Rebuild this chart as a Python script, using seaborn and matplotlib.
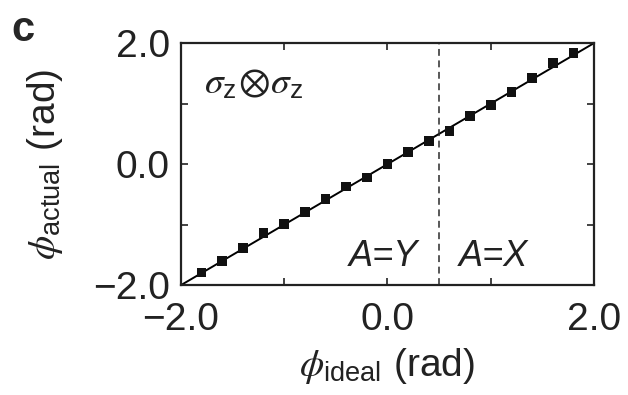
import numpy as np
import matplotlib
matplotlib.use("Agg")
import matplotlib.pyplot as plt
import seaborn as sns
import pandas as pd

# data
phi_ideal = [-1.8, -1.6, -1.4, -1.2, -1.0, -0.8, -0.6, -0.4, -0.2, 0.0,
             0.2, 0.4, 0.6, 0.8, 1.0, 1.2, 1.4, 1.6, 1.8]
phi_actual = [-1.79, -1.60, -1.39, -1.14, -0.99, -0.79, -0.58, -0.37, -0.22, 0.0,
              0.20, 0.38, 0.55, 0.79, 0.98, 1.19, 1.42, 1.67, 1.84]
ideal_line = [-2.0, 2.0]
boundary = 0.5
tick_labels = ["\u22122.0", "0.0", "2.0"]

df = pd.DataFrame({"ideal": phi_ideal, "actual": phi_actual})

sns.set_style("ticks")
plt.rcParams["font.family"] = ["Liberation Sans", "DejaVu Sans"]
plt.rcParams["mathtext.fontset"] = "custom"
plt.rcParams["mathtext.rm"] = "Liberation Sans"
plt.rcParams["mathtext.it"] = "STIXGeneral:italic"
plt.rcParams["mathtext.bf"] = "Liberation Sans:bold"
plt.rcParams["mathtext.fallback"] = "stix"

fig = plt.figure(figsize=(6.28, 3.95), dpi=100)
ax = fig.add_axes([0.288, 0.278, 0.658, 0.613])

# y = x reference
sns.lineplot(x=ideal_line, y=ideal_line, ax=ax, color="black", lw=1.4)
ax.axvline(boundary, color="#2a2a2a", lw=1.1, ls=(0, (4.5, 3)))
sns.scatterplot(data=df, x="ideal", y="actual", ax=ax, marker="s", s=48,
                color="#111111", edgecolor="none", zorder=3)

ax.set_xlim(-2, 2)
ax.set_ylim(-2, 2)
ax.set_xticks([-2, -1, 0, 1, 2])
ax.set_yticks([-2, -1, 0, 1, 2])
ax.set_xticklabels([tick_labels[0], "", tick_labels[1], "", tick_labels[2]])
ax.set_yticklabels([tick_labels[0], "", tick_labels[1], "", tick_labels[2]])
ax.tick_params(direction="in", length=5, width=1.2, top=True, right=True,
               labelsize=28, colors="#222222")
ax.tick_params(axis="x", pad=12)
ax.tick_params(axis="y", pad=8)
for s in ax.spines.values():
    s.set_linewidth(1.6)
    s.set_color("#222222")

ax.set_xlabel(r"$\phi_{\mathrm{ideal}}$ (rad)", fontsize=28, color="#222222", labelpad=6)
ax.set_ylabel(r"$\phi_{\mathrm{actual}}$ (rad)", fontsize=28, color="#222222", labelpad=20)

ax.text(-1.78, 1.32, r"$\sigma_{\mathrm{z}}\!\otimes\!\sigma_{\mathrm{z}}$",
        fontsize=27, va="center", ha="left", color="#222222")
ax.text(0.30, -1.52, "A=Y", style="italic", fontsize=26, ha="right", va="center",
        color="#222222")
ax.text(0.69, -1.52, "A=X", style="italic", fontsize=26, ha="left", va="center",
        color="#222222")

fig.text(0.018, 0.975, "c", fontsize=30, fontweight="bold", va="top", ha="left")

fig.savefig("out.png", dpi=100)
